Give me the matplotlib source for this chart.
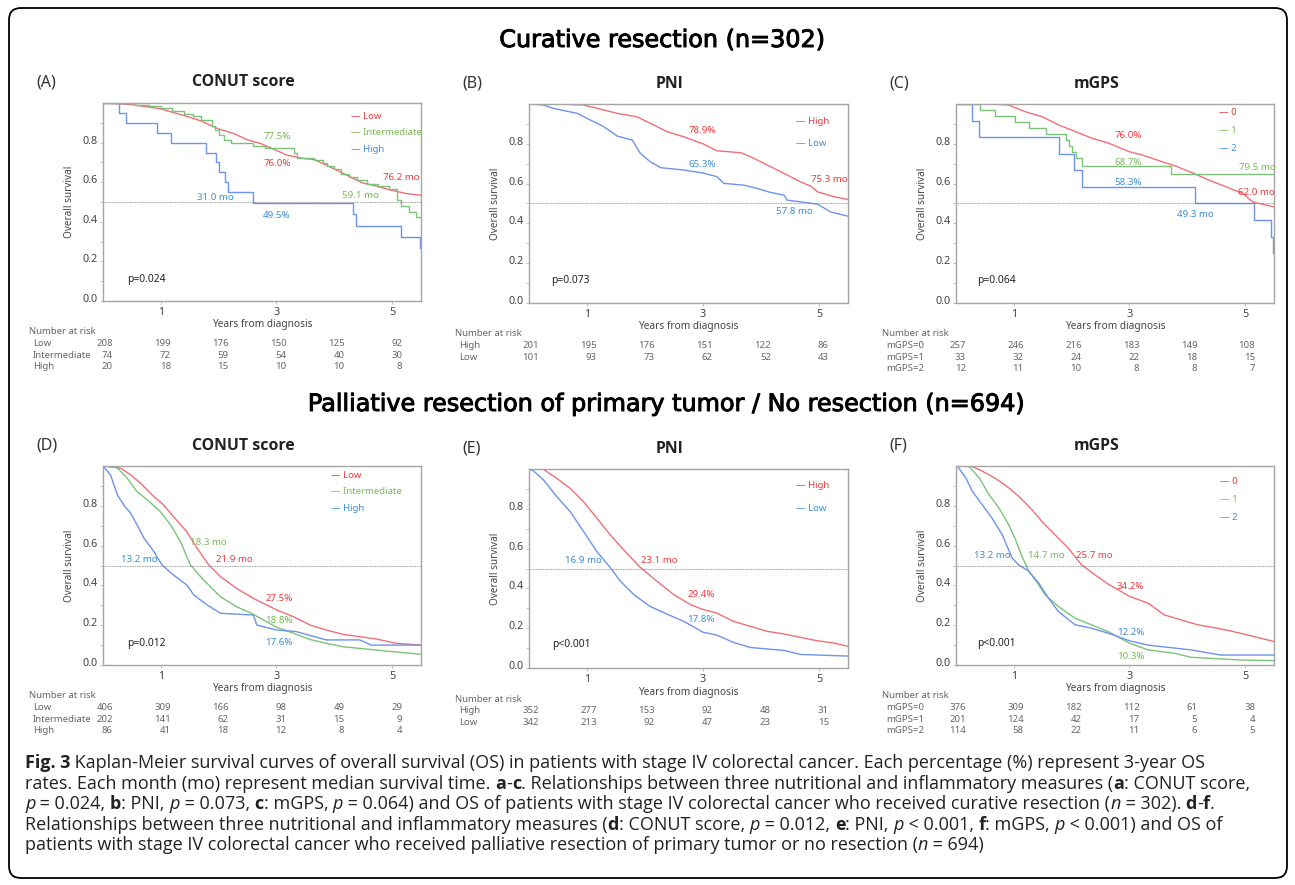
import re
import matplotlib
matplotlib.use('Agg')
import matplotlib.pyplot as plt
import matplotlib.patheffects as pe
from matplotlib.patches import FancyBboxPatch
from matplotlib.transforms import IdentityTransform, offset_copy

plt.rcParams['font.family'] = ['Noto Sans', 'DejaVu Sans']

W, H = 1295, 885

# ---------------- data (years from diagnosis, survival probability) ----------------
# (A) curative resection, CONUT score
a_low_t = [0, 0.49, 0.99, 1.49, 1.69, 1.99, 2.27, 2.49, 2.73, 2.99, 3.19, 3.49, 3.65, 3.99, 4.22, 4.49, 4.68, 4.99, 5.26, 5.5]
a_low_s = [1.0, 0.992, 0.971, 0.929, 0.91, 0.870, 0.845, 0.815, 0.795, 0.762, 0.736, 0.719, 0.715, 0.668, 0.635, 0.596, 0.584, 0.559, 0.542, 0.534]
a_int_t = [0, 0.55, 0.8, 1.0, 1.2, 1.4, 1.55, 1.7, 1.89, 1.93, 2.0, 2.09, 2.21, 2.6, 2.8, 3.3, 3.35, 3.65, 3.8, 3.88, 4.0, 4.11, 4.25, 4.4, 4.57, 4.75, 4.95, 5.08, 5.15, 5.3, 5.42, 5.5]
a_int_s = [1.0, 0.99, 0.986, 0.973, 0.959, 0.946, 0.932, 0.912, 0.885, 0.865, 0.838, 0.811, 0.797, 0.784, 0.775, 0.746, 0.724, 0.71, 0.695, 0.68, 0.668, 0.643, 0.625, 0.609, 0.593, 0.58, 0.566, 0.51, 0.48, 0.45, 0.425, 0.425]
a_high_t = [0, 0.28, 0.40, 0.93, 1.18, 1.79, 1.95, 2.01, 2.11, 2.17, 2.59, 4.32, 4.38, 5.15, 5.49, 5.5]
a_high_s = [1.0, 0.95, 0.90, 0.85, 0.80, 0.75, 0.70, 0.65, 0.60, 0.55, 0.495, 0.438, 0.381, 0.324, 0.27, 0.27]

# (B) curative resection, PNI
b_high_t = [0, 0.5, 0.94, 1.29, 1.52, 1.86, 2.09, 2.38, 2.67, 3.0, 3.24, 3.65, 3.82, 4.11, 4.40, 4.68, 4.86, 4.97, 5.26, 5.5]
b_high_s = [1.0, 1.0, 0.995, 0.97, 0.953, 0.936, 0.903, 0.861, 0.835, 0.80, 0.765, 0.755, 0.735, 0.693, 0.651, 0.609, 0.587, 0.559, 0.534, 0.52]
b_low_t = [0, 0.25, 0.42, 0.83, 1.06, 1.29, 1.52, 1.78, 1.92, 2.09, 2.27, 2.67, 3.0, 3.24, 3.36, 3.71, 3.94, 4.17, 4.40, 4.45, 4.97, 5.20, 5.5]
b_low_s = [1.0, 0.995, 0.978, 0.953, 0.919, 0.886, 0.839, 0.819, 0.752, 0.710, 0.680, 0.668, 0.653, 0.635, 0.601, 0.592, 0.575, 0.555, 0.542, 0.517, 0.497, 0.458, 0.436]

# (C) curative resection, mGPS
c_0_t = [0, 0.6, 0.91, 1.20, 1.49, 1.78, 2.07, 2.36, 2.65, 3.0, 3.23, 3.51, 3.80, 4.09, 4.38, 4.67, 4.96, 5.13, 5.5]
c_0_s = [1.0, 1.0, 0.995, 0.961, 0.936, 0.894, 0.861, 0.827, 0.802, 0.76, 0.743, 0.715, 0.688, 0.654, 0.617, 0.584, 0.550, 0.508, 0.483]
c_1_t = [0, 0.42, 0.67, 1.02, 1.26, 1.55, 1.90, 1.95, 2.00, 2.07, 2.18, 3.72, 5.5]
c_1_s = [1.0, 0.970, 0.939, 0.909, 0.879, 0.848, 0.818, 0.788, 0.758, 0.727, 0.687, 0.65, 0.65]
c_2_t = [0, 0.28, 0.40, 1.78, 2.04, 2.18, 4.14, 5.16, 5.45, 5.49, 5.5]
c_2_s = [1.0, 0.917, 0.833, 0.75, 0.667, 0.583, 0.50, 0.417, 0.333, 0.25, 0.25]

# (D) palliative / no resection, CONUT score
d_low_t = [0, 0.20, 0.31, 0.48, 0.65, 0.88, 1.05, 1.22, 1.45, 1.63, 1.83, 2.03, 2.31, 2.60, 3.0, 3.29, 3.58, 3.86, 4.15, 4.44, 4.72, 5.07, 5.5]
d_low_s = [1.0, 0.997, 0.988, 0.955, 0.913, 0.846, 0.804, 0.745, 0.670, 0.586, 0.503, 0.444, 0.385, 0.335, 0.277, 0.243, 0.201, 0.176, 0.154, 0.142, 0.131, 0.109, 0.10]
d_int_t = [0, 0.25, 0.42, 0.59, 0.77, 0.99, 1.17, 1.34, 1.51, 1.74, 2.03, 2.31, 2.60, 3.0, 3.29, 3.58, 3.86, 4.15, 4.72, 5.5]
d_int_s = [1.0, 0.99, 0.938, 0.871, 0.829, 0.771, 0.704, 0.620, 0.503, 0.427, 0.343, 0.293, 0.255, 0.19, 0.16, 0.128, 0.109, 0.092, 0.075, 0.054]
d_high_t = [0, 0.13, 0.25, 0.36, 0.48, 0.59, 0.71, 0.88, 1.02, 1.22, 1.45, 1.57, 1.80, 2.03, 2.60, 2.66, 3.0, 3.34, 3.86, 4.44, 4.64, 5.5]
d_high_s = [1.0, 0.955, 0.854, 0.804, 0.762, 0.704, 0.637, 0.570, 0.503, 0.452, 0.402, 0.352, 0.302, 0.260, 0.251, 0.201, 0.176, 0.168, 0.126, 0.126, 0.10, 0.10]

# (E) palliative / no resection, PNI
e_high_t = [0, 0.25, 0.48, 0.71, 0.94, 1.17, 1.40, 1.63, 1.92, 2.21, 2.50, 2.79, 3.0, 3.24, 3.53, 3.82, 4.11, 4.40, 4.68, 4.97, 5.26, 5.5]
e_high_s = [1.0, 0.998, 0.953, 0.903, 0.836, 0.753, 0.669, 0.594, 0.505, 0.435, 0.368, 0.318, 0.294, 0.276, 0.234, 0.209, 0.184, 0.171, 0.154, 0.137, 0.125, 0.109]
e_low_t = [0, 0.08, 0.25, 0.48, 0.71, 0.94, 1.17, 1.40, 1.58, 1.81, 2.09, 2.38, 2.67, 3.0, 3.24, 3.53, 3.82, 4.40, 4.68, 5.5]
e_low_s = [1.0, 0.99, 0.945, 0.861, 0.786, 0.686, 0.585, 0.505, 0.435, 0.368, 0.309, 0.271, 0.234, 0.18, 0.165, 0.128, 0.103, 0.088, 0.068, 0.06]

# (F) palliative / no resection, mGPS
f_0_t = [0, 0.28, 0.45, 0.68, 0.91, 1.08, 1.31, 1.48, 1.71, 1.94, 2.17, 2.40, 2.63, 3.0, 3.32, 3.60, 3.89, 4.18, 4.46, 4.75, 5.04, 5.5]
f_0_s = [1.0, 0.997, 0.975, 0.938, 0.891, 0.849, 0.782, 0.723, 0.655, 0.588, 0.504, 0.454, 0.407, 0.345, 0.311, 0.252, 0.227, 0.202, 0.188, 0.171, 0.151, 0.118]
f_1_t = [0, 0.22, 0.40, 0.57, 0.74, 0.91, 1.03, 1.14, 1.26, 1.43, 1.54, 1.77, 2.06, 2.34, 2.63, 3.0, 3.32, 3.78, 4.06, 4.92, 5.5]
f_1_s = [1.0, 1.0, 0.941, 0.857, 0.79, 0.706, 0.630, 0.546, 0.471, 0.403, 0.353, 0.294, 0.235, 0.202, 0.168, 0.11, 0.076, 0.059, 0.039, 0.025, 0.022]
f_2_t = [0, 0.02, 0.17, 0.28, 0.45, 0.62, 0.80, 0.97, 1.08, 1.26, 1.43, 1.60, 1.77, 2.06, 2.34, 2.63, 3.0, 3.32, 4.06, 4.58, 5.5]
f_2_s = [1.0, 1.0, 0.941, 0.874, 0.807, 0.739, 0.655, 0.538, 0.504, 0.471, 0.412, 0.336, 0.269, 0.202, 0.185, 0.160, 0.122, 0.10, 0.076, 0.05, 0.05]

# number at risk
risk_years = [0, 1, 2, 3, 4, 5]
conut_groups = ['Low', 'Intermediate', 'High']
pni_groups = ['High', 'Low']
mgps_groups = ['0', '1', '2']
mgps_rows = ['mGPS=0', 'mGPS=1', 'mGPS=2']
a_risk = [[208, 199, 176, 150, 125, 92], [74, 72, 59, 54, 40, 30], [20, 18, 15, 10, 10, 8]]
b_risk = [[201, 195, 176, 151, 122, 86], [101, 93, 73, 62, 52, 43]]
c_risk = [[257, 246, 216, 183, 149, 108], [33, 32, 24, 22, 18, 15], [12, 11, 10, 8, 8, 7]]
d_risk = [[406, 309, 166, 98, 49, 29], [202, 141, 62, 31, 15, 9], [86, 41, 18, 12, 8, 4]]
e_risk = [[352, 277, 153, 92, 48, 31], [342, 213, 92, 47, 23, 15]]
f_risk = [[376, 309, 182, 112, 61, 38], [201, 124, 42, 17, 5, 4], [114, 58, 22, 11, 6, 5]]

# ---------------- style ----------------
RED, GREEN, BLUE = '#ef6f78', '#7cc27a', '#6d93ec'
RED_T, GREEN_T, BLUE_T = '#f03a3a', '#78b955', '#3b8fd9'

fig = plt.figure(figsize=(W / 100, H / 100), dpi=100)


def km_panel(box, tag, title, curves, names, tcolors, leg_x, leg_y, notes, pval, p_xy, row_names, risk):
    left, top, w, h = box
    ax = fig.add_axes([left / W, 1 - (top + h) / H, w / W, h / H])
    for (t, s, stepped), c in zip(curves, [RED, GREEN, BLUE] if len(curves) == 3 else [RED, BLUE]):
        ax.plot(t, s, color=c, lw=1.0, drawstyle='steps-post' if stepped else 'default')
    ax.axhline(0.5, color='#7a7a7a', lw=0.6, ls=(0, (1, 1)))
    ax.set_xlim(0, 5.5)
    ax.set_ylim(0, 1.0)
    ax.set_xticks([1, 3, 5])
    ax.set_yticks([0, 0.2, 0.4, 0.6, 0.8])
    ax.set_yticklabels(['0.0', '0.2', '0.4', '0.6', '0.8'])
    ax.set_yticks([0.1, 0.3, 0.5, 0.7, 0.9], minor=True)
    ax.tick_params(which='both', length=2, width=0.6, color='#b5b5b5', labelsize=7.8, labelcolor='#444444', pad=2)
    for lab in ax.get_yticklabels():
        lab.set_transform(offset_copy(lab.get_transform(), fig=fig, x=0, y=3, units='dots'))
    for sp in ax.spines.values():
        sp.set_color('#a5a5a5')
        sp.set_linewidth(1.0)

    ax.text(0.5, -24 / h, 'Years from diagnosis', transform=ax.transAxes, ha='center', va='center',
            fontsize=7.3, color='#444444')
    ax.text(-33.5 / w, 0.5, 'Overall survival', transform=ax.transAxes, rotation=90, ha='center',
            va='center', fontsize=7.2, color='#444444')
    ax.text(0.5 - 18.5 / w, 1 + 20.5 / h, title, transform=ax.transAxes, ha='center', va='center',
            fontsize=11.4, fontweight='bold', family=['Open Sans', 'DejaVu Sans'], color='#222222')
    ax.text(-67 / w, 1 + 20.5 / h, tag, transform=ax.transAxes, ha='left', va='center',
            fontsize=11.5, color='#333333')

    for name, col, y in zip(names, tcolors, leg_y):
        ax.text(leg_x, y, '\u2014 ' + name, color=col, fontsize=6.9, ha='left', va='center')
    for txt, x, y, col in notes:
        ax.text(x, y, txt, color=col, fontsize=7.0, ha='center', va='center', clip_on=False)
    ax.text(p_xy[0], p_xy[1], pval, fontsize=7.4, color='#222222', ha='left', va='center')

    # number at risk table
    ax.annotate('Number at risk', xy=(0, 0), xycoords='axes fraction', xytext=(-74, -31),
                textcoords='offset pixels', ha='left', va='center', fontsize=6.9, color='#666666')
    for i, (rname, row) in enumerate(zip(row_names, risk)):
        dy = -(42.5 + 11.7 * i)
        ax.annotate(rname, xy=(0, 0), xycoords='axes fraction', xytext=(-70, dy),
                    textcoords='offset pixels', ha='left', va='center', fontsize=6.9, color='#666666')
        for yr, n in zip(risk_years, row):
            ax.annotate(str(n), xy=(yr, 0), xycoords=('data', 'axes fraction'), xytext=(10, dy),
                        textcoords='offset pixels', ha='right', va='center', fontsize=6.9, color='#666666')
    return ax


km_panel((103, 103, 318, 198), '(A)', 'CONUT score',
         [(a_low_t, a_low_s, False), (a_int_t, a_int_s, True), (a_high_t, a_high_s, True)],
         conut_groups, [RED_T, GREEN_T, BLUE_T], 4.29, [0.933, 0.850, 0.764],
         [('77.5%', 3.01, 0.832, GREEN_T), ('76.0%', 3.01, 0.694, RED_T), ('31.0 mo', 1.94, 0.524, BLUE_T),
          ('49.5%', 3.01, 0.433, BLUE_T), ('76.2 mo', 5.16, 0.623, RED_T), ('59.1 mo', 4.46, 0.534, GREEN_T)],
         'p=0.024', (0.42, 0.111), conut_groups, a_risk)

km_panel((529, 104, 319, 199), '(B)', 'PNI',
         [(b_high_t, b_high_s, False), (b_low_t, b_low_s, False)],
         pni_groups, [RED_T, BLUE_T], 4.61, [0.911, 0.799],
         [('78.9%', 2.98, 0.866, RED_T), ('65.3%', 2.98, 0.698, BLUE_T), ('75.3 mo', 5.17, 0.621, RED_T),
          ('57.8 mo', 4.57, 0.458, BLUE_T)],
         'p=0.073', (0.39, 0.114), pni_groups, b_risk)

km_panel((956, 104, 318, 199), '(C)', 'mGPS',
         [(c_0_t, c_0_s, False), (c_1_t, c_1_s, True), (c_2_t, c_2_s, True)],
         mgps_groups, [RED_T, GREEN_T, BLUE_T], 4.55, [0.956, 0.866, 0.775],
         [('76.0%', 2.98, 0.844, RED_T), ('68.7%', 2.98, 0.706, GREEN_T), ('58.3%', 2.98, 0.606, BLUE_T),
          ('79.5 mo', 5.22, 0.681, GREEN_T), ('62.0 mo', 5.19, 0.557, RED_T), ('49.3 mo', 4.14, 0.445, BLUE_T)],
         'p=0.064', (0.36, 0.114), mgps_rows, c_risk)

km_panel((103, 466, 318, 199), '(D)', 'CONUT score',
         [(d_low_t, d_low_s, False), (d_int_t, d_int_s, False), (d_high_t, d_high_s, False)],
         conut_groups, [RED_T, GREEN_T, BLUE_T], 3.95, [0.951, 0.871, 0.787],
         [('18.3 mo', 1.83, 0.616, GREEN_T), ('13.2 mo', 0.63, 0.531, BLUE_T), ('21.9 mo', 2.27, 0.528, RED_T),
          ('27.5%', 3.05, 0.335, RED_T), ('18.8%', 3.05, 0.226, GREEN_T), ('17.6%', 3.05, 0.112, BLUE_T)],
         'p=0.012', (0.41, 0.109), conut_groups, d_risk)

km_panel((529, 469, 319, 199), '(E)', 'PNI',
         [(e_high_t, e_high_s, False), (e_low_t, e_low_s, False)],
         pni_groups, [RED_T, BLUE_T], 4.61, [0.915, 0.803],
         [('16.9 mo', 0.93, 0.540, BLUE_T), ('23.1 mo', 2.25, 0.540, RED_T), ('29.4%', 2.97, 0.368, RED_T),
          ('17.8%', 2.97, 0.246, BLUE_T)],
         'p<0.001', (0.40, 0.117), pni_groups, e_risk)

km_panel((956, 466, 318, 199), '(F)', 'mGPS',
         [(f_0_t, f_0_s, False), (f_1_t, f_1_s, False), (f_2_t, f_2_s, False)],
         mgps_groups, [RED_T, GREEN_T, BLUE_T], 4.57, [0.921, 0.832, 0.739],
         [('13.2 mo', 0.62, 0.550, BLUE_T), ('14.7 mo', 1.57, 0.550, GREEN_T), ('25.7 mo', 2.40, 0.550, RED_T),
          ('34.2%', 3.02, 0.392, RED_T), ('12.2%', 3.02, 0.165, BLUE_T), ('10.3%', 3.02, 0.045, GREEN_T)],
         'p<0.001', (0.37, 0.109), mgps_rows, f_risk)

# section headings (regular face thickened a little to get a medium weight)
heading_fx = [pe.withStroke(linewidth=0.7, foreground='black')]
fig.text(662 / W, 1 - 40 / H, 'Curative resection (n=302)', ha='center', va='center',
         fontsize=17.2, family='DejaVu Sans', color='black', path_effects=heading_fx)
fig.text(666 / W, 1 - 404 / H, 'Palliative resection of primary tumor / No resection (n=694)', ha='center',
         va='center', fontsize=17.2, family='DejaVu Sans', color='black', path_effects=heading_fx)

# caption, drawn run by run so bold / italic pieces sit inline
caption = [
    "**Fig. 3** Kaplan-Meier survival curves of overall survival (OS) in patients with stage IV colorectal cancer. Each percentage (%) represent 3-year OS",
    "rates. Each month (mo) represent median survival time. **a**-**c**. Relationships between three nutritional and inflammatory measures (**a**: CONUT score,",
    "_p_ = 0.024, **b**: PNI, _p_ = 0.073, **c**: mGPS, _p_ = 0.064) and OS of patients with stage IV colorectal cancer who received curative resection (_n_ = 302). **d**-**f**.",
    "Relationships between three nutritional and inflammatory measures (**d**: CONUT score, _p_ = 0.012, **e**: PNI, _p_ < 0.001, **f**: mGPS, _p_ < 0.001) and OS of",
    "patients with stage IV colorectal cancer who received palliative resection of primary tumor or no resection (_n_ = 694)",
]
renderer = fig.canvas.get_renderer()
cap_kw = dict(fontsize=13.0, family=['Open Sans', 'DejaVu Sans'], color='#222222')


def run_width(s, **kw):
    a = fig.text(0, 0, '|' + s + '|', **kw)
    b = fig.text(0, 0, '||', **kw)
    wdt = a.get_window_extent(renderer).width - b.get_window_extent(renderer).width
    a.remove()
    b.remove()
    return wdt


for i, line in enumerate(caption):
    x = 25.0
    y = H - (768 + 20.6 * i)
    for part in re.split(r'(\*\*[^*]+\*\*|_[^_]+_)', line):
        if not part:
            continue
        kw = dict(cap_kw)
        if part.startswith('**'):
            part = part[2:-2]
            kw['fontweight'] = 'bold'
        elif part.startswith('_'):
            part = part[1:-1]
            kw['fontstyle'] = 'italic'
        fig.text(x / W, y / H, part, ha='left', va='baseline', **kw)
        x += run_width(part, **kw)

# rounded outer frame
frame = FancyBboxPatch((9, H - 878), 1278, 870, boxstyle='round,pad=0,rounding_size=12',
                       transform=IdentityTransform(), fill=False, ec='black', lw=1.3)
fig.add_artist(frame)

fig.savefig('out.png', dpi=100)
